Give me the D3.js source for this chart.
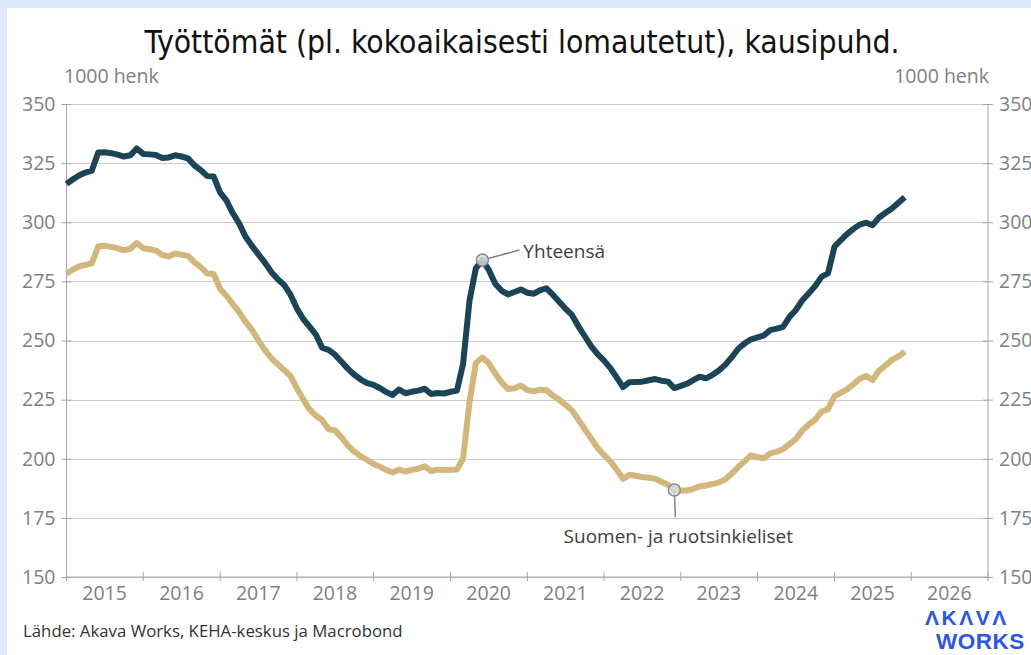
<!DOCTYPE html>
<html>
<head>
<meta charset="utf-8">
<script src="https://cdn.jsdelivr.net/npm/d3@7"></script>
<style>
  html, body { margin: 0; padding: 0; background: #fff; }
  svg { display: block; }
</style>
</head>
<body>
<svg id="chart" width="1031" height="655"></svg>
<script>
// monthly data, Jan 2015 ->
const startMonth = new Date(2015, 0, 1);
const yhteensa = [
  316.2, 318.2, 319.8, 321.0, 321.8, 329.5, 329.6, 329.2, 328.6, 327.8, 328.3, 331.2,
  328.9, 328.7, 328.4, 327.2, 327.4, 328.3, 327.8, 327.0, 324.0, 322.0, 319.5, 319.3,
  312.5, 309.0, 304.0, 299.5, 294.0, 290.0, 286.5, 283.0, 279.0, 276.0, 273.5, 269.5,
  263.5, 259.0, 256.0, 252.5, 247.0, 246.0, 244.0, 241.0, 238.0, 235.5, 233.5, 232.0,
  231.2, 229.8, 228.2, 227.0, 229.3, 227.7, 228.3, 228.8, 229.6, 227.4, 227.8, 227.6,
  228.3, 228.8, 240.0, 267.0, 280.5, 284.0, 280.0, 274.0, 271.0, 269.5, 270.5, 271.6,
  270.2, 269.8, 271.2, 272.1, 269.5, 266.4, 263.5, 260.8, 256.0, 251.8, 247.5, 244.2,
  241.5, 238.2, 234.5, 230.3, 232.4, 232.5, 232.6, 233.2, 233.7, 233.0, 232.6, 229.9,
  230.8, 231.8, 233.2, 234.7, 234.0, 235.5, 237.3, 239.8, 243.0, 246.5, 248.8, 250.5,
  251.3, 252.2, 254.4, 255.0, 255.8, 260.0, 262.9, 267.0, 270.0, 273.0, 277.0, 278.4,
  289.7, 292.5, 295.0, 297.2, 299.0, 299.8, 298.8, 302.0, 304.0, 305.8, 308.2, 310.6
];
const suomiRuotsi = [
  278.3, 280.0, 281.3, 282.0, 282.6, 289.8, 290.1, 289.6, 289.0, 288.2, 288.8, 291.3,
  289.0, 288.6, 288.0, 286.2, 285.5, 286.8, 286.3, 285.8, 283.0, 281.0, 278.3, 278.1,
  271.8, 268.8, 265.5, 262.0, 258.0, 254.5, 250.2, 246.0, 242.5, 240.0, 237.5, 235.0,
  229.8, 225.0, 221.0, 218.2, 216.4, 212.5, 212.0, 209.0, 205.5, 203.0, 201.0, 199.5,
  197.8, 196.6, 195.3, 194.2, 195.4, 194.6, 195.3, 195.8, 196.8, 194.8, 195.4, 195.2,
  195.3, 195.5, 200.0, 224.0, 240.5, 242.8, 240.5, 236.0, 232.3, 229.5, 229.8, 231.0,
  229.0, 228.5, 229.2, 229.0, 226.8, 225.0, 222.8, 220.5, 216.5, 212.5, 208.5, 204.6,
  201.5, 198.8, 195.5, 191.5, 193.2, 192.8, 192.3, 192.0, 191.6, 190.3, 189.0, 186.8,
  186.6, 186.6, 187.3, 188.3, 188.7, 189.3, 190.0, 191.3, 193.8, 196.5, 199.0, 201.5,
  200.6, 200.2, 202.3, 203.0, 204.0, 206.3, 208.3, 212.0, 214.5, 216.5, 220.0, 221.0,
  226.5, 228.0, 229.3, 231.5, 233.8, 235.0, 233.3, 237.3, 239.5, 241.8, 243.3, 245.3
];
const yearLabels = ['2015', '2016', '2017', '2018', '2019', '2020', '2021', '2022', '2023', '2024', '2025', '2026'];
const yTicks = [150, 175, 200, 225, 250, 275, 300, 325, 350];

const titleText = 'Työttömät (pl. kokoaikaisesti lomautetut), kausipuhd.';
const unitText = '1000 henk';
const sourceText = 'Lähde: Akava Works, KEHA-keskus ja Macrobond';

const svg = d3.select('#chart');
const font = '"Open Sans", sans-serif';
const axisGrey = '#a6a6a6';
const labelGrey = '#7f7f7f';

// frame strips
svg.append('rect').attr('x', 0).attr('y', 0).attr('width', 1031).attr('height', 8).attr('fill', '#dde8fb');
svg.append('rect').attr('x', 0).attr('y', 0).attr('width', 7).attr('height', 655).attr('fill', '#dde8fb');

const plot = {left: 66.5, right: 988, top: 104, bottom: 577};

const x = d3.scaleTime()
  .domain([new Date(2015, 0, 1), new Date(2027, 0, 1)])
  .range([plot.left, plot.right]);
const y = d3.scaleLinear()
  .domain([150, 350])
  .range([plot.bottom, plot.top]);

const monthDate = i => d3.timeMonth.offset(startMonth, i);

// gridlines
svg.append('g').selectAll('line')
  .data(yTicks)
  .join('line')
  .attr('x1', plot.left).attr('x2', plot.right)
  .attr('y1', d => Math.round(y(d)) + 0.5).attr('y2', d => Math.round(y(d)) + 0.5)
  .attr('stroke', '#cccccc').attr('stroke-width', 1);

// left + right axes
const leftAxis = svg.append('g')
  .attr('transform', `translate(${plot.left},0)`)
  .call(d3.axisLeft(y).tickValues(yTicks).tickSize(5).tickPadding(6));
const rightAxis = svg.append('g')
  .attr('transform', `translate(${plot.right},0)`)
  .call(d3.axisRight(y).tickValues(yTicks).tickSize(5).tickPadding(6));

[leftAxis, rightAxis].forEach(g => {
  g.select('.domain').remove();
  g.append('line').attr('y1', plot.top).attr('y2', plot.bottom).attr('stroke', axisGrey);
  g.selectAll('.tick line').attr('stroke', axisGrey)
    .attr('x1', g === leftAxis ? 5 : -5);
  g.selectAll('.tick text')
    .attr('fill', labelGrey).attr('font-family', font).attr('font-size', 19.5);
});

// bottom axis
const yearStarts = d3.range(2015, 2028).map(yr => new Date(yr, 0, 1));
const bottom = svg.append('g').attr('transform', `translate(0,${plot.bottom})`);
bottom.append('line').attr('x1', plot.left).attr('x2', plot.right).attr('stroke', axisGrey);
bottom.selectAll('line.tk')
  .data(yearStarts)
  .join('line').attr('class', 'tk')
  .attr('x1', d => x(d)).attr('x2', d => x(d))
  .attr('y1', -5).attr('y2', 4)
  .attr('stroke', axisGrey);
bottom.selectAll('text')
  .data(yearLabels)
  .join('text')
  .attr('x', d => x(new Date(+d, 6, 1)))
  .attr('y', 23)
  .attr('text-anchor', 'middle')
  .attr('fill', labelGrey).attr('font-family', font).attr('font-size', 19.5)
  .text(d => d);

// unit labels
svg.append('text').attr('x', 64).attr('y', 83)
  .attr('fill', labelGrey).attr('font-family', font).attr('font-size', 19.5)
  .text(unitText);
svg.append('text').attr('x', 989).attr('y', 83).attr('text-anchor', 'end')
  .attr('fill', labelGrey).attr('font-family', font).attr('font-size', 19.5)
  .text(unitText);

// title
svg.append('text').attr('x', 522).attr('y', 53).attr('text-anchor', 'middle')
  .attr('fill', '#111').attr('font-family', '"Liberation Sans Narrow", "DejaVu Sans Condensed", sans-serif')
  .attr('font-size', 32)
  .attr('textLength', 755).attr('lengthAdjust', 'spacingAndGlyphs')
  .text(titleText);

// lines
const line = d3.line()
  .x((d, i) => x(monthDate(i)))
  .y(d => y(d));

svg.append('path').datum(suomiRuotsi)
  .attr('d', line).attr('fill', 'none')
  .attr('stroke', '#d3b67b').attr('stroke-width', 6).attr('stroke-linejoin', 'round');
svg.append('path').datum(yhteensa)
  .attr('d', line).attr('fill', 'none')
  .attr('stroke', '#1b4557').attr('stroke-width', 6).attr('stroke-linejoin', 'round');

// annotations
const annTotal = 65, annFin = 95;
const ax1 = x(monthDate(annTotal)), ay1 = y(yhteensa[annTotal]);
svg.append('line').attr('x1', ax1).attr('y1', ay1).attr('x2', ax1 + 37).attr('y2', ay1 - 10)
  .attr('stroke', '#808080').attr('stroke-width', 1.5);
svg.append('circle').attr('cx', ax1).attr('cy', ay1).attr('r', 6)
  .attr('fill', '#d7dadf').attr('fill-opacity', 0.85).attr('stroke', '#8a8a8a').attr('stroke-width', 1.5);
svg.append('text').attr('x', ax1 + 41).attr('y', ay1 - 2)
  .attr('fill', '#404040').attr('font-family', font).attr('font-size', 19)
  .text('Yhteensä');

const ax2 = x(monthDate(annFin)), ay2 = y(suomiRuotsi[annFin]);
svg.append('line').attr('x1', ax2).attr('y1', ay2).attr('x2', ax2 + 1).attr('y2', ay2 + 27)
  .attr('stroke', '#808080').attr('stroke-width', 1.5);
svg.append('circle').attr('cx', ax2).attr('cy', ay2).attr('r', 6)
  .attr('fill', '#d7dadf').attr('fill-opacity', 0.85).attr('stroke', '#8a8a8a').attr('stroke-width', 1.5);
svg.append('text').attr('x', ax2 + 4).attr('y', ay2 + 53).attr('text-anchor', 'middle')
  .attr('fill', '#404040').attr('font-family', font).attr('font-size', 19)
  .text('Suomen- ja ruotsinkieliset');

// source
svg.append('text').attr('x', 23).attr('y', 637)
  .attr('fill', '#333').attr('font-family', font).attr('font-size', 16.8)
  .text(sourceText);

// logo
const logo = svg.append('g').attr('fill', '#2f55e4')
  .attr('font-family', '"Liberation Sans", Arial, sans-serif').attr('font-weight', 700);
logo.append('text').attr('x', 925).attr('y', 625).attr('font-size', 21).attr('letter-spacing', 2.5).text('ΛKΛVΛ');
logo.append('text').attr('x', 936).attr('y', 649).attr('font-size', 22.5).attr('letter-spacing', 0.5).text('WORKS');
</script>
</body>
</html>
